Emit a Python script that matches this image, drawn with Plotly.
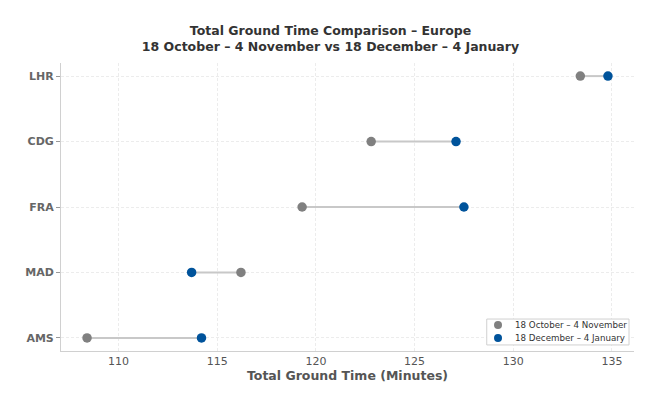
import plotly.graph_objects as go

airports = ["AMS", "MAD", "FRA", "CDG", "LHR"]
oct_nov = [108.4, 116.2, 119.3, 122.8, 133.4]
dec_jan = [114.2, 113.7, 127.5, 127.1, 134.8]
x_ticks = [110, 115, 120, 125, 130, 135]

label_a = "18 October – 4 November"
label_b = "18 December – 4 January"

GRAY = "#808080"
BLUE = "#00539B"

line_x, line_y = [], []
for a, o, d in zip(airports, oct_nov, dec_jan):
    line_x += [o, d, None]
    line_y += [a, a, None]

fig = go.Figure()
fig.add_trace(go.Scatter(x=line_x, y=line_y, mode="lines",
                         line=dict(color="#c8c8c8", width=2),
                         showlegend=False, hoverinfo="skip"))
fig.add_trace(go.Scatter(x=oct_nov, y=airports, mode="markers", name=label_a,
                         marker=dict(color=GRAY, size=9.5), showlegend=False))
fig.add_trace(go.Scatter(x=dec_jan, y=airports, mode="markers", name=label_b,
                         marker=dict(color=BLUE, size=9.5), showlegend=False))

# legend box drawn as shapes + text annotations (paper coordinates)
shapes = [dict(type="rect", xref="paper", yref="paper",
               x0=0.743, x1=0.9913, y0=0.021, y1=0.111,
               line=dict(color="#d0d0d0", width=1), fillcolor="white", layer="above")]
annotations = []
for label, color, yy in [(label_a, GRAY, 0.090), (label_b, BLUE, 0.045)]:
    shapes.append(dict(type="circle", xref="paper", yref="paper",
                       xsizemode="pixel", ysizemode="pixel",
                       xanchor=0.7627, yanchor=yy,
                       x0=-4, x1=4, y0=-4, y1=4,
                       fillcolor=color, line=dict(width=0), layer="above"))
    annotations.append(dict(text=label, xref="paper", yref="paper",
                            x=0.7890, y=yy, xanchor="left", yanchor="middle",
                            showarrow=False, font=dict(size=8.7, color="#333333")))

fig.update_layout(
    width=661, height=397,
    margin=dict(l=61, r=27, t=63, b=46),
    paper_bgcolor="white", plot_bgcolor="white",
    font=dict(family="DejaVu Sans", color="#555555"),
    showlegend=False,
    shapes=shapes, annotations=annotations,
    title=dict(text="<b>Total Ground Time Comparison – Europe<br>18 October – 4 November vs 18 December – 4 January</b>",
               x=0.5, xanchor="center", y=0.912, yanchor="top",
               font=dict(size=12.5, color="#333333")),
    xaxis=dict(range=[107.08, 136.12], tickvals=x_ticks, automargin=False,
               showgrid=True, gridcolor="#ececec", griddash="3px,2px", gridwidth=1,
               showline=True, linecolor="#d0d0d0", linewidth=1,
               zeroline=False, ticks="",
               tickfont=dict(size=11, color="#555555"),
               title=dict(text="<b>Total Ground Time (Minutes)</b>", standoff=4,
                          font=dict(size=12.5, color="#555555"))),
    yaxis=dict(type="category", categoryorder="array", categoryarray=airports,
               range=[-0.2, 4.2], automargin=False,
               showgrid=True, gridcolor="#ececec", griddash="3px,2px", gridwidth=1,
               showline=True, linecolor="#d0d0d0", linewidth=1,
               zeroline=False, ticks="outside", ticklen=4, tickcolor="#999999",
               tickfont=dict(size=11, color="#666666"),
               tickprefix="<b>", ticksuffix="</b>"),
)

fig.write_html("out.html", config={"displayModeBar": False},
               post_script="document.body.style.margin='0';")
